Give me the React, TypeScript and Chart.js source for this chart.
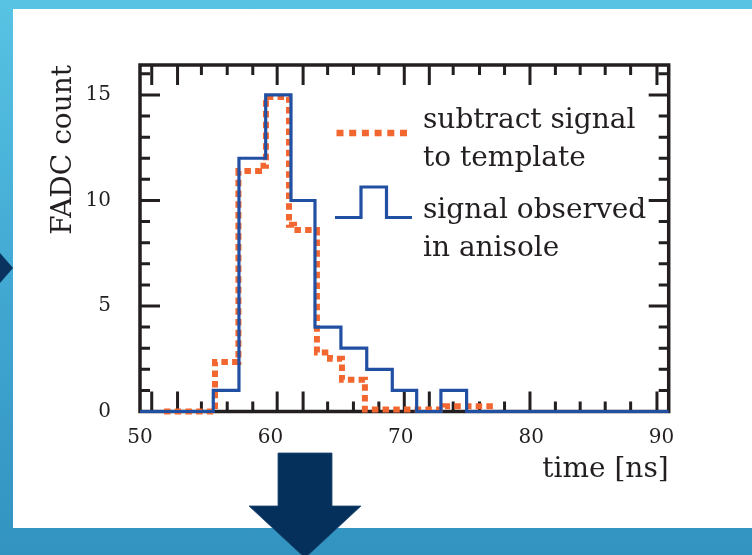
import React, { useEffect, useRef } from "react";
import { Chart, registerables } from "chart.js";

Chart.register(...registerables);

// ---- data ----
const xTickLabels = [50, 60, 70, 80, 90];
const yTickLabels = [0, 5, 10, 15];
const xMinorTicks = [50.9, 52.88, 54.71, 56.69, 58.65, 60.52, 62.51, 64.39, 66.37, 68.32, 70.27, 72.19, 74.02, 76.04, 77.96, 79.91, 81.86, 83.76, 85.68, 87.63, 89.65];
const xMajorTicks = [50.9, 52.88, 60.52, 62.51, 70.27, 72.19, 79.91, 89.65];
const yMinorTicks = [1, 2, 3, 4, 6, 7, 8, 9, 11, 12, 13, 14, 16];
const yMajorTicks = [0, 5, 10, 15];

// signal observed in anisole (bin edges in ns, counts per bin)
const observedEdges = [50, 55.62, 57.59, 59.64, 61.58, 63.42, 65.41, 67.39, 69.35, 71.22, 73.08, 75.05, 90.55];
const observedCounts = [0, 1, 12, 15, 10, 4, 3, 2, 1, 0, 1, 0];

// subtract signal to template
const subtractEdges = [51.84, 55.75, 57.55, 59.13, 59.66, 61.43, 61.81, 63.57, 64.57, 65.49, 67.25, 73.39, 77.38];
const subtractCounts = [0, 2.35, 11.4, 11.65, 14.9, 8.85, 8.6, 2.8, 2.5, 1.5, 0.1, 0.25];

const legendLabels = [
  ["subtract signal", "to template"],
  ["signal observed", "in anisole"],
];

const INK = "#231f20";
const BLUE = "#2150a3";
const ORANGE = "#f2662f";
const SERIF = "'DejaVu Serif', serif";

const toSteps = (edges: number[], counts: number[]) =>
  edges.map((x, i) => ({ x, y: counts[Math.min(i, counts.length - 1)] }));

const framePlugin = {
  id: "frameTicks",
  beforeDatasetsDraw(chart: any) {
    const { ctx, chartArea: a, scales } = chart;
    const x = scales.x;
    const y = scales.y;
    ctx.save();
    ctx.strokeStyle = INK;
    ctx.lineCap = "butt";
    ctx.lineWidth = 3;
    ctx.beginPath();
    const yTick = (v: number, len: number) => {
      const py = y.getPixelForValue(v);
      ctx.moveTo(a.left, py);
      ctx.lineTo(a.left + len, py);
      ctx.moveTo(a.right, py);
      ctx.lineTo(a.right - len, py);
    };
    yMinorTicks.forEach((v) => yTick(v, 10));
    yMajorTicks.forEach((v) => yTick(v, 20));
    const xTick = (v: number, len: number) => {
      const px = x.getPixelForValue(v);
      ctx.moveTo(px, a.bottom);
      ctx.lineTo(px, a.bottom - len);
      ctx.moveTo(px, a.top);
      ctx.lineTo(px, a.top + len);
    };
    xMinorTicks.forEach((v) => xTick(v, xMajorTicks.includes(v) ? 20 : 10));
    ctx.stroke();
    ctx.lineWidth = 3.5;
    ctx.strokeRect(a.left, a.top, a.right - a.left, a.bottom - a.top);
    ctx.restore();
  },
};

const legendPlugin = {
  id: "stepLegend",
  afterDatasetsDraw(chart: any) {
    const { ctx } = chart;
    ctx.save();
    // orange dotted sample
    ctx.strokeStyle = ORANGE;
    ctx.lineWidth = 6.5;
    ctx.lineCap = "butt";
    ctx.setLineDash([7, 5.7]);
    ctx.beginPath();
    ctx.moveTo(336.5, 133);
    ctx.lineTo(408, 133);
    ctx.stroke();
    ctx.setLineDash([]);
    // blue pulse sample
    ctx.strokeStyle = BLUE;
    ctx.lineWidth = 3.2;
    ctx.lineJoin = "miter";
    ctx.beginPath();
    ctx.moveTo(335, 217.5);
    ctx.lineTo(361, 217.5);
    ctx.lineTo(361, 187);
    ctx.lineTo(386.5, 187);
    ctx.lineTo(386.5, 217.5);
    ctx.lineTo(412, 217.5);
    ctx.stroke();
    // texts
    ctx.fillStyle = INK;
    ctx.font = `28px ${SERIF}`;
    ctx.textAlign = "left";
    ctx.textBaseline = "alphabetic";
    ctx.fillText(legendLabels[0][0], 423, 128);
    ctx.fillText(legendLabels[0][1], 423, 165.5);
    ctx.fillText(legendLabels[1][0], 423, 218);
    ctx.fillText(legendLabels[1][1], 423, 255.5);
    ctx.restore();
  },
};

export default function App() {
  const ref = useRef<HTMLCanvasElement>(null);

  useEffect(() => {
    if (!ref.current) return;
    const chart = new Chart(ref.current, {
      type: "line",
      data: {
        datasets: [
          {
            label: "signal observed in anisole",
            data: toSteps(observedEdges, observedCounts),
            stepped: true,
            borderColor: BLUE,
            borderWidth: 3.2,
            pointRadius: 0,
            fill: false,
            borderJoinStyle: "miter",
            clip: 8,
            order: 0,
          },
          {
            label: "subtract signal to template",
            data: toSteps(subtractEdges, subtractCounts),
            stepped: true,
            borderColor: ORANGE,
            borderWidth: 6,
            borderDash: [6.5, 4.2],
            borderCapStyle: "butt",
            borderJoinStyle: "miter",
            pointRadius: 0,
            fill: false,
            clip: 8,
            order: 1,
          },
        ] as any,
      },
      options: {
        animation: false,
        responsive: false,
        maintainAspectRatio: false,
        layout: { padding: { top: 65, right: 83.3, left: 0, bottom: 0 } },
        plugins: { legend: { display: false }, tooltip: { enabled: false } },
        scales: {
          x: {
            type: "linear",
            min: 50,
            max: 90.55,
            afterBuildTicks: (s: any) => {
              s.ticks = xTickLabels.map((v) => ({ value: v }));
            },
            afterFit: (s: any) => {
              s.height = 143.5;
            },
            grid: { display: false, drawTicks: false },
            border: { display: false },
            ticks: {
              color: INK,
              font: { family: SERIF, size: 20 },
              padding: 14,
              maxRotation: 0,
              autoSkip: false,
            },
            title: {
              display: true,
              text: "time [ns]",
              color: INK,
              align: "end",
              font: { family: SERIF, size: 28 },
              padding: { top: 0, bottom: 68 },
            },
          },
          y: {
            type: "linear",
            min: 0,
            max: 16.42,
            afterBuildTicks: (s: any) => {
              s.ticks = yTickLabels.map((v) => ({ value: v }));
            },
            afterFit: (s: any) => {
              s.width = 140;
            },
            grid: { display: false, drawTicks: false },
            border: { display: false },
            ticks: {
              color: INK,
              font: { family: SERIF, size: 20 },
              padding: 29,
            },
            title: {
              display: true,
              text: "FADC count",
              color: INK,
              align: "end",
              font: { family: SERIF, size: 28 },
              padding: { top: 47, bottom: 0 },
            },
          },
        },
      } as any,
      plugins: [framePlugin, legendPlugin],
    });
    return () => chart.destroy();
  }, []);

  return (
    <div
      style={{
        position: "fixed",
        left: 0,
        top: 0,
        width: 752,
        height: 555,
        overflow: "hidden",
        background: "linear-gradient(180deg, #58c3e3 0%, #42a9d3 50%, #3293c0 100%)",
      }}
    >
      <svg width={752} height={555} style={{ position: "absolute", left: 0, top: 0 }}>
        <polygon points="0,253 13,268 0,283" fill="#0a3360" />
      </svg>
      <div style={{ position: "absolute", left: 13, top: 9, width: 760, height: 519, background: "#ffffff" }} />
      <canvas
        ref={ref}
        width={752}
        height={555}
        style={{ position: "absolute", left: 0, top: 0, width: 752, height: 555 }}
      />
      <svg width={752} height={555} style={{ position: "absolute", left: 0, top: 0 }}>
        <polygon
          points="278,453 332,453 332,506 361,506 305,558 249,506 278,506"
          fill="#06305c"
          stroke="#1d4a72"
          strokeWidth={0.8}
        />
      </svg>
    </div>
  );
}
